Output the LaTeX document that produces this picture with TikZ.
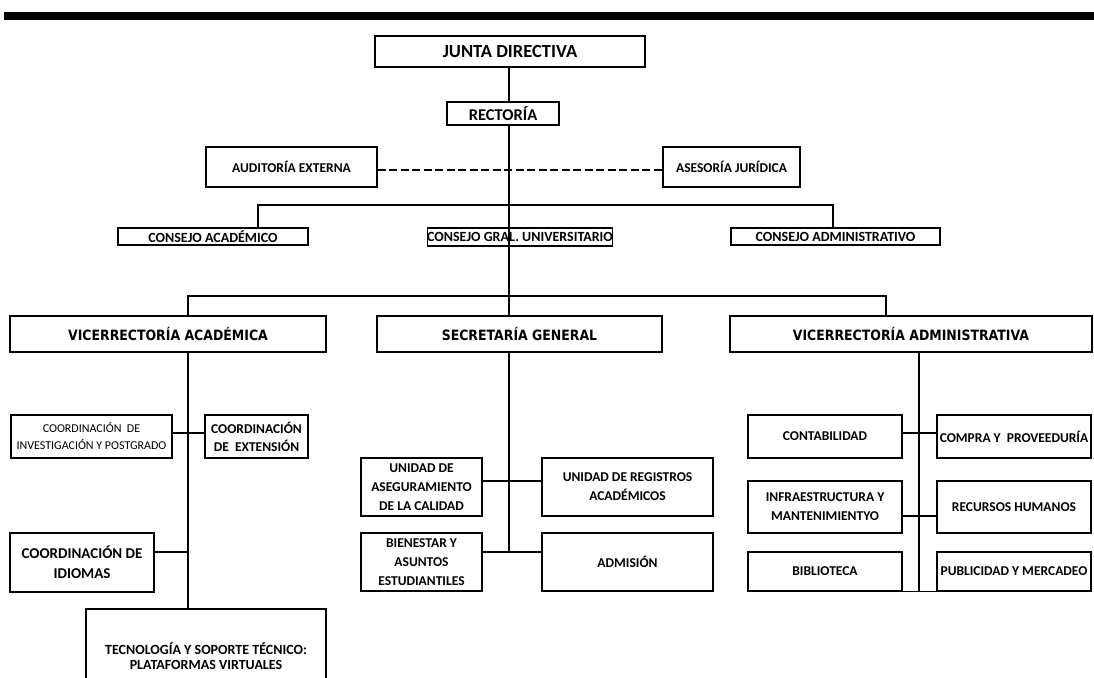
\documentclass[tikz,border=0pt]{standalone}
\usepackage{fontspec}
\setmainfont{Carlito}
\newfontfamily\verdfont{DejaVu Sans}[FakeStretch=0.88]
\begin{document}
\begin{tikzpicture}[x=1pt,y=-1pt,
  box/.style={draw,line width=1.1pt,inner sep=0pt,align=center,font=\bfseries\fontsize{13.5}{19}\selectfont},
  vbox/.style={box,font=\verdfont\bfseries\fontsize{14.2}{16}\selectfont},
  cbox/.style={box,font=\bfseries\fontsize{14}{16}\selectfont},
  conn/.style={line width=1.1pt},
  dashconn/.style={line width=2pt,dash pattern=on 8pt off 3.5pt}]
\useasboundingbox (0,0) rectangle (1094,677);
\clip (0,0) rectangle (1094,677);
\fill (4,12) rectangle (1094,20);
% top
\node[box,line width=2.2pt,minimum width=270,minimum height=31,font=\bfseries\fontsize{18.5}{20}\selectfont] (junta) at (510,51.5) {JUNTA DIRECTIVA};
\node[box,minimum width=112,minimum height=23,font=\bfseries\fontsize{16.5}{18}\selectfont] (rect) at (503,113.5) {RECTORÍA};
\node[box,minimum width=171,minimum height=40] (audit) at (291.5,167) {AUDITORÍA EXTERNA};
\node[box,minimum width=137,minimum height=40] (aseso) at (731.5,167) {ASESORÍA JURÍDICA};
% consejos
\node[cbox,minimum width=190,minimum height=17] (cacad) at (213,236.5) {CONSEJO ACADÉMICO};
\node[cbox,minimum width=184,minimum height=18] (cgral) at (520,237) {CONSEJO GRAL. UNIVERSITARIO};
\node[cbox,minimum width=209,minimum height=17] (cadm) at (835.5,236.5) {CONSEJO ADMINISTRATIVO};
% vicerrectorias
\node[vbox,minimum width=316,minimum height=36] (vacad) at (168,334) {VICERRECTORÍA ACADÉMICA};
\node[vbox,minimum width=285,minimum height=36] (secgen) at (519.5,334) {SECRETARÍA GENERAL};
\node[vbox,minimum width=362,minimum height=36] (vadm) at (911,334) {VICERRECTORÍA ADMINISTRATIVA};
% left column
\node[box,minimum width=161,minimum height=43,font=\fontsize{12}{17}\selectfont] (cinv) at (91.5,436.5) {COORDINACIÓN~~DE\\INVESTIGACIÓN Y POSTGRADO};
\node[box,minimum width=103,minimum height=43,font=\bfseries\fontsize{13.5}{18}\selectfont] (cext) at (256.5,436.5) {COORDINACIÓN\\DE~~EXTENSIÓN};
\node[box,minimum width=144,minimum height=59,font=\bfseries\fontsize{15}{20}\selectfont] (cidi) at (82,562.5) {COORDINACIÓN DE\\IDIOMAS};
\node[box,minimum width=240,minimum height=94,font=\bfseries\fontsize{14}{14.5}\selectfont] (tec) at (206,656) {TECNOLOGÍA Y SOPORTE TÉCNICO:\\PLATAFORMAS VIRTUALES};
% middle column
\node[box,minimum width=121,minimum height=58] (useg) at (421.5,487) {UNIDAD DE\\ASEGURAMIENTO\\DE LA CALIDAD};
\node[box,minimum width=171,minimum height=58] (ureg) at (627.5,487) {UNIDAD DE REGISTROS\\ACADÉMICOS};
\node[box,minimum width=121,minimum height=58] (bien) at (421.5,562) {BIENESTAR Y\\ASUNTOS\\ESTUDIANTILES};
\node[box,minimum width=171,minimum height=58] (adm) at (627.5,562) {ADMISIÓN};
% right column
\node[box,minimum width=154,minimum height=43] (cont) at (825,436.5) {CONTABILIDAD};
\node[box,minimum width=154,minimum height=43] (comp) at (1014,436.5) {COMPRA Y~~PROVEEDURÍA};
\node[box,minimum width=154,minimum height=52] (infra) at (825,507) {INFRAESTRUCTURA Y\\MANTENIMIENTYO};
\node[box,minimum width=154,minimum height=52] (rrhh) at (1014,507) {RECURSOS HUMANOS};
\node[box,minimum width=154,minimum height=39] (bibl) at (825,571.5) {BIBLIOTECA};
\node[box,minimum width=154,minimum height=39] (publ) at (1014,571.5) {PUBLICIDAD Y MERCADEO};
% trunk coordinates
\coordinate (mx) at (509,0);
\coordinate (lx) at (188,0);
\coordinate (rx) at (919,0);
\coordinate (cl) at (258,205);
\coordinate (cr) at (833,205);
\coordinate (vl) at (188,296);
\coordinate (vr) at (886,296);
% connectors
\draw[conn] (junta.south -| mx) -- (rect.north -| mx);
\draw[conn] (rect.south -| mx) -- (secgen.north -| mx);
\draw[dashconn] ([yshift=-3pt]audit.east) -- ([yshift=-3pt]aseso.west);
\draw[conn] (cacad.north -| cl) -- (cl) -- (cr) -- (cadm.north -| cr);
\draw[conn] (vacad.north -| vl) -- (vl) -- (vr) -- (vadm.north -| vr);
% left
\draw[conn] (vacad.south -| lx) -- (tec.north -| lx);
\draw[conn] ([yshift=3.5pt]cinv.east) -- ([yshift=3.5pt]cext.west);
\draw[conn] ([yshift=10.5pt]cidi.east) -- ([yshift=10.5pt]cidi.east -| lx);
% middle
\draw[conn] (secgen.south -| mx) -- ([yshift=10pt]bien.east -| mx);
\draw[conn] ([yshift=6pt]useg.east) -- ([yshift=6pt]ureg.west);
\draw[conn] ([yshift=10pt]bien.east) -- ([yshift=10pt]adm.west);
% right
\draw[conn] (vadm.south -| rx) -- (bibl.south -| rx);
\draw[conn] ([yshift=3.5pt]cont.east) -- ([yshift=3.5pt]comp.west);
\draw[conn] ([yshift=-9pt]infra.east) -- ([yshift=-9pt]rrhh.west);
\draw[conn] (bibl.south east) -- (publ.south west);
\end{tikzpicture}
\end{document}
